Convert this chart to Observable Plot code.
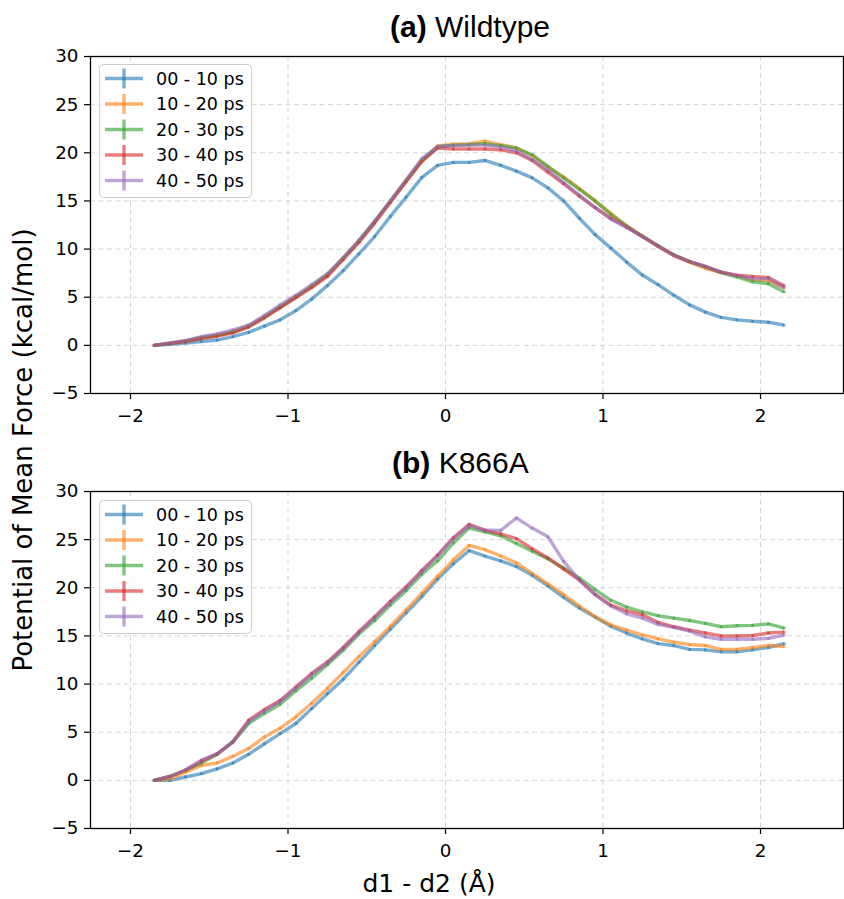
<!DOCTYPE html>
<html>
<head>
<meta charset="utf-8">
<script src="https://cdn.jsdelivr.net/npm/d3@7"></script>
<script src="https://cdn.jsdelivr.net/npm/@observablehq/plot@0.6"></script>
<style>
  html, body { margin: 0; padding: 0; background: white; }
  #fig { position: relative; width: 844px; height: 899px; overflow: hidden; background: white; }
  #fig > svg { position: absolute; left: 0; }
  #overlay { position: absolute; left: 0; top: 0; pointer-events: none; }
</style>
</head>
<body>
<div id="fig"></div>
<script>
// ---- data ----
const xValues = [-1.85,-1.75,-1.65,-1.55,-1.45,-1.35,-1.25,-1.15,-1.05,-0.95,-0.85,-0.75,-0.65,-0.55,-0.45,-0.35,-0.25,-0.15,-0.05,
  0.05,0.15,0.25,0.35,0.45,0.55,0.65,0.75,0.85,0.95,1.05,1.15,1.25,1.35,1.45,1.55,1.65,1.75,1.85,1.95,2.05,2.15];

const seriesNames = ["00 - 10 ps", "10 - 20 ps", "20 - 30 ps", "30 - 40 ps", "40 - 50 ps"];
const seriesColors = ["#1f77b4", "#ff7f0e", "#2ca02c", "#d62728", "#9467bd"];

const panelTitlesBold = ["(a)", "(b)"];
const panelTitlesText = ["Wildtype", "K866A"];

const xTicks = [-2, -1, 0, 1, 2];
const yTicks = [-5, 0, 5, 10, 15, 20, 25, 30];
const xLabel = "d1 - d2 (Å)";
const yLabel = "Potential of Mean Force (kcal/mol)";

// Panel (a) Wildtype
const wt_00_10 = [0,0.1,0.25,0.4,0.55,0.9,1.35,2.0,2.65,3.6,4.8,6.2,7.75,9.5,11.3,13.4,15.4,17.45,18.7,
  19.0,19.0,19.2,18.7,18.1,17.4,16.35,15.0,13.2,11.5,10.1,8.65,7.3,6.3,5.2,4.2,3.45,2.9,2.65,2.5,2.4,2.1];
const wt_10_20 = [0,0.2,0.45,0.8,1.05,1.4,2.0,2.95,4.0,5.05,6.1,7.3,9.0,10.8,12.8,14.95,17.1,19.2,20.7,
  20.9,20.95,21.2,20.85,20.5,19.7,18.5,17.5,16.3,15.0,13.7,12.4,11.35,10.3,9.35,8.65,8.0,7.55,7.25,6.8,6.7,5.95];
const wt_20_30 = [0,0.2,0.45,0.8,1.05,1.4,2.0,2.95,4.0,5.05,6.15,7.35,9.05,10.85,12.85,15.0,17.1,19.2,20.6,
  20.8,20.85,20.95,20.75,20.5,19.8,18.6,17.4,16.2,15.0,13.6,12.4,11.35,10.35,9.4,8.7,8.15,7.55,7.1,6.6,6.4,5.55];
const wt_30_40 = [0,0.2,0.4,0.7,0.95,1.3,1.9,2.85,3.9,4.95,6.0,7.15,8.9,10.7,12.7,14.85,17.0,19.1,20.5,
  20.4,20.4,20.4,20.3,20.0,19.2,18.0,16.8,15.5,14.3,13.2,12.3,11.3,10.3,9.35,8.7,8.2,7.6,7.3,7.15,7.05,6.2];
const wt_40_50 = [0,0.25,0.5,0.9,1.2,1.6,2.1,3.1,4.2,5.2,6.3,7.45,9.1,10.9,12.9,15.0,17.2,19.4,20.65,
  20.75,20.8,20.8,20.6,20.2,19.3,18.2,16.9,15.6,14.3,13.1,12.25,11.3,10.3,9.35,8.7,8.2,7.6,7.25,6.95,6.9,6.0];

// Panel (b) K866A
const mut_00_10 = [0,0,0.35,0.7,1.2,1.8,2.7,3.8,4.85,5.9,7.45,9.0,10.5,12.25,14.0,15.7,17.4,19.1,20.9,
  22.5,23.85,23.3,22.8,22.2,21.3,20.2,19.0,17.9,16.95,16.0,15.3,14.7,14.2,14.0,13.6,13.55,13.35,13.35,13.55,13.8,14.2];
const mut_10_20 = [0,0.15,0.85,1.55,1.8,2.5,3.3,4.5,5.4,6.6,8.0,9.55,11.2,12.85,14.4,16.0,17.7,19.45,21.2,
  22.9,24.4,23.96,23.3,22.6,21.5,20.4,19.3,18.1,17.0,16.15,15.6,15.1,14.7,14.35,14.1,14.0,13.6,13.6,13.8,14.0,13.9];
const mut_20_30 = [0,0.4,1.05,1.8,2.7,4.0,5.9,6.95,7.9,9.3,10.6,12.0,13.5,15.2,16.6,18.2,19.7,21.4,22.8,
  24.65,26.2,25.8,25.4,24.6,23.8,23.0,22.05,21.0,19.8,18.7,18.0,17.5,17.1,16.85,16.6,16.3,15.95,16.05,16.1,16.25,15.8];
const mut_30_40 = [0,0.4,1.05,2.0,2.75,4.0,6.25,7.35,8.3,9.7,11.1,12.3,13.8,15.45,17.0,18.6,20.1,21.8,23.4,
  25.2,26.6,25.97,25.6,25.1,24.06,23.1,21.95,20.8,19.3,18.2,17.6,17.2,16.4,15.95,15.6,15.3,15.0,15.0,15.05,15.3,15.4];
const mut_40_50 = [0,0.4,1.1,2.1,2.75,4.0,6.1,7.2,8.2,9.6,11.0,12.2,13.7,15.35,16.9,18.5,20.0,21.7,23.3,
  25.1,26.45,26.0,25.95,27.25,26.2,25.3,22.75,20.8,19.3,18.1,17.3,16.85,16.2,15.9,15.5,14.9,14.65,14.65,14.65,14.75,15.1];

const panelSeries = [
  [wt_00_10, wt_10_20, wt_20_30, wt_30_40, wt_40_50],
  [mut_00_10, mut_10_20, mut_20_30, mut_30_40, mut_40_50]
];

// ---- drawing ----
const fmt = d => d < 0 ? "\u2212" + Math.abs(d) : String(d);
const fig = document.getElementById("fig");

const layout = [
  {top: 0, height: 430, marginTop: 56, marginBottom: 37},
  {top: 436, height: 430, marginTop: 55, marginBottom: 38}
];

panelSeries.forEach((arrays, p) => {
  const rows = [];
  arrays.forEach((arr, s) => arr.forEach((v, i) => rows.push({x: xValues[i], y: v, series: seriesNames[s]})));
  const L = layout[p];
  const chart = Plot.plot({
    width: 844,
    height: L.height,
    marginLeft: 90,
    marginRight: 1,
    marginTop: L.marginTop,
    marginBottom: L.marginBottom,
    style: {fontFamily: "'DejaVu Sans', sans-serif", fontSize: "18.3px", color: "#000", background: "transparent", overflow: "visible"},
    x: {domain: [-2.254, 2.527]},
    y: {domain: [-5, 30]},
    color: {domain: seriesNames, range: seriesColors},
    marks: [
      Plot.gridX({ticks: xTicks, stroke: "#b0b0b0", strokeOpacity: 0.55, strokeWidth: 1, strokeDasharray: "5,3.5"}),
      Plot.gridY({ticks: yTicks, stroke: "#b0b0b0", strokeOpacity: 0.55, strokeWidth: 1, strokeDasharray: "5,3.5"}),
      Plot.line(rows, {x: "x", y: "y", z: "series", stroke: "series", strokeWidth: 3.4, strokeOpacity: 0.6, strokeLinejoin: "round", strokeLinecap: "butt"}),
      Plot.dot(rows, {x: "x", y: "y", fill: "series", symbol: "square", r: 1.5, fillOpacity: 0.6, stroke: "none"}),
      Plot.frame({stroke: "#000", strokeWidth: 1.3}),
      Plot.axisX({ticks: xTicks, tickSize: 6, tickPadding: 9, tickFormat: fmt, label: null, strokeWidth: 1.2}),
      Plot.axisY({ticks: yTicks, tickSize: 6, tickPadding: 6, tickFormat: fmt, label: null, strokeWidth: 1.2})
    ]
  });
  chart.style.top = L.top + "px";
  fig.appendChild(chart);
});

// ---- overlay: titles, axis labels, legends ----
const ns = "http://www.w3.org/2000/svg";
const ov = document.createElementNS(ns, "svg");
ov.setAttribute("id", "overlay");
ov.setAttribute("width", 844);
ov.setAttribute("height", 899);
fig.appendChild(ov);

function el(name, attrs, parent) {
  const e = document.createElementNS(ns, name);
  for (const k in attrs) e.setAttribute(k, attrs[k]);
  (parent || ov).appendChild(e);
  return e;
}

const titleBaselines = [37, 473];
const titleStarts = [390, 392];
titleBaselines.forEach((yb, p) => {
  const t = el("text", {x: titleStarts[p], y: yb, "font-family": "'Liberation Sans', Arial, Helvetica, sans-serif", "font-size": 30, fill: "#000"});
  const b = el("tspan", {"font-weight": "bold"}, t);
  b.textContent = panelTitlesBold[p];
  const n = el("tspan", {}, t);
  n.textContent = " " + panelTitlesText[p];
});

const xl = el("text", {x: 429, y: 892, "text-anchor": "middle", "font-family": "'DejaVu Sans', sans-serif", "font-size": 25, fill: "#000"});
xl.textContent = xLabel;
const yl = el("text", {transform: "translate(32,450) rotate(-90)", "text-anchor": "middle", "font-family": "'DejaVu Sans', sans-serif", "font-size": 26, fill: "#000"});
yl.textContent = yLabel;

const legendTops = [64, 500];
legendTops.forEach(top => {
  el("rect", {x: 99.5, y: top + 0.5, width: 152, height: 133, rx: 4, fill: "white", "fill-opacity": 0.8, stroke: "#cccccc", "stroke-width": 1});
  seriesNames.forEach((name, i) => {
    const cy = top + 14.5 + 25.5 * i;
    el("line", {x1: 105, x2: 143, y1: cy, y2: cy, stroke: seriesColors[i], "stroke-width": 3.4, "stroke-opacity": 0.6});
    el("line", {x1: 124, x2: 124, y1: cy - 10, y2: cy + 10, stroke: seriesColors[i], "stroke-width": 3.4, "stroke-opacity": 0.6});
    const t = el("text", {x: 156, y: cy + 6.3, "font-family": "'DejaVu Sans', sans-serif", "font-size": 17.5, fill: "#000"});
    t.textContent = name;
  });
});
</script>
</body>
</html>
